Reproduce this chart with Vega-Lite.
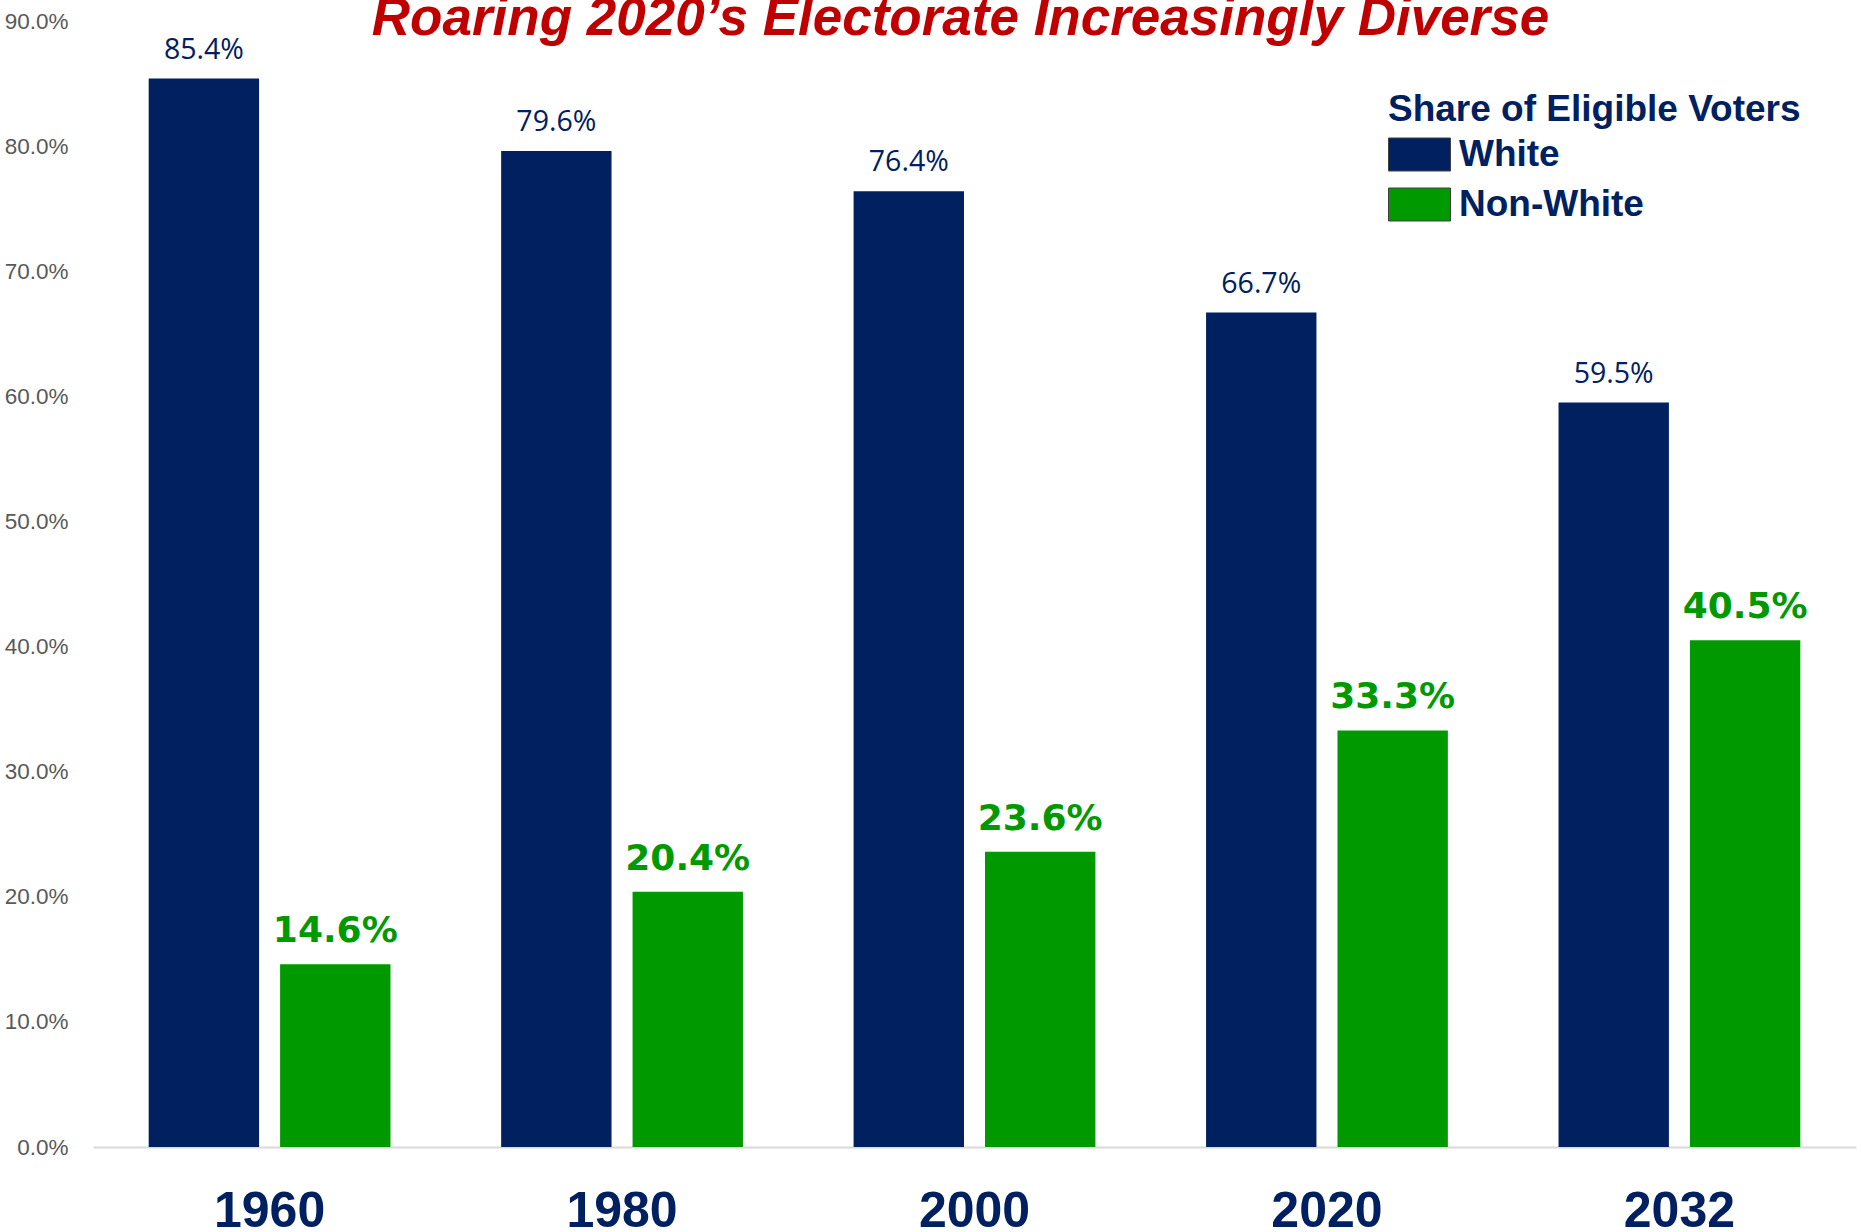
{
  "$schema": "https://vega.github.io/schema/vega-lite/v6.json",
  "autosize": "none",
  "width": 1763,
  "height": 1126,
  "padding": {"left": 93, "top": 21, "right": 7, "bottom": 85},
  "background": "white",
  "title": {
    "text": "Roaring 2020’s Electorate Increasingly Diverse",
    "font": "Liberation Sans, Arial, sans-serif",
    "fontSize": 53,
    "fontWeight": "bold",
    "fontStyle": "italic",
    "color": "#C00000",
    "anchor": "middle",
    "frame": "group",
    "dx": -14,
    "offset": -36
  },
  "config": {"view": {"stroke": null}},
  "data": {
    "values": [
      {"year": "1960", "group": "White", "share": 0.854},
      {"year": "1960", "group": "Non-White", "share": 0.146},
      {"year": "1980", "group": "White", "share": 0.796},
      {"year": "1980", "group": "Non-White", "share": 0.204},
      {"year": "2000", "group": "White", "share": 0.764},
      {"year": "2000", "group": "Non-White", "share": 0.236},
      {"year": "2020", "group": "White", "share": 0.667},
      {"year": "2020", "group": "Non-White", "share": 0.333},
      {"year": "2032", "group": "White", "share": 0.595},
      {"year": "2032", "group": "Non-White", "share": 0.405}
    ]
  },
  "encoding": {
    "x": {
      "field": "year",
      "type": "nominal",
      "sort": null,
      "scale": {"paddingInner": 0.314, "paddingOuter": 0.158},
      "axis": {
        "title": null,
        "labelAngle": 0,
        "labelFont": "Liberation Sans",
        "labelFontSize": 50,
        "labelFontWeight": "bold",
        "labelColor": "#002060",
        "labelBaseline": "alphabetic",
        "labelPadding": 79,
        "ticks": false,
        "tickSize": 0,
        "domain": true,
        "domainColor": "#d9d9d9",
        "domainWidth": 2,
        "grid": false
      }
    },
    "xOffset": {
      "field": "group",
      "type": "nominal",
      "sort": ["White", "Non-White"],
      "scale": {"paddingInner": 0.16, "paddingOuter": 0}
    },
    "y": {
      "field": "share",
      "type": "quantitative",
      "scale": {"domain": [0, 0.9], "nice": false},
      "axis": {
        "title": null,
        "values": [0, 0.1, 0.2, 0.3, 0.4, 0.5, 0.6, 0.7, 0.8, 0.9],
        "format": ".1%",
        "labelFont": "Liberation Sans",
        "labelFontSize": 22.5,
        "labelColor": "#595959",
        "labelPadding": 25,
        "ticks": false,
        "tickSize": 0,
        "domain": false,
        "grid": false
      }
    }
  },
  "layer": [
    {
      "mark": {"type": "bar"},
      "encoding": {
        "color": {
          "field": "group",
          "type": "nominal",
          "sort": ["White", "Non-White"],
          "scale": {"domain": ["White", "Non-White"], "range": ["#002060", "#009900"]},
          "legend": {
            "title": "Share of Eligible Voters",
            "orient": "none",
            "legendX": 1295,
            "legendY": 71,
            "direction": "vertical",
            "padding": 0,
            "titleFont": "Liberation Sans",
            "titleFontSize": 37,
            "titleFontWeight": "bold",
            "titleColor": "#002060",
            "titlePadding": -6,
            "titleLimit": 700,
            "labelFont": "Liberation Sans",
            "labelFontSize": 37,
            "labelFontWeight": "bold",
            "labelColor": "#002060",
            "labelOffset": 8,
            "labelLimit": 400,
            "symbolType": "M-1,-0.532H1V0.532H-1Z",
            "symbolSize": 3844,
            "symbolStrokeColor": "#404040",
            "symbolStrokeWidth": 1,
            "symbolOpacity": 1,
            "rowPadding": -10
          }
        }
      }
    },
    {
      "transform": [{"filter": "datum.group === 'White'"}],
      "mark": {
        "type": "text",
        "font": "Open Sans",
        "fontSize": 28.5,
        "color": "#002060",
        "baseline": "alphabetic",
        "dy": -20
      },
      "encoding": {"text": {"field": "share", "type": "quantitative", "format": ".1%"}}
    },
    {
      "transform": [{"filter": "datum.group === 'Non-White'"}],
      "mark": {
        "type": "text",
        "font": "DejaVu Sans",
        "fontSize": 36,
        "fontWeight": "bold",
        "color": "#009900",
        "baseline": "alphabetic",
        "dy": -22
      },
      "encoding": {"text": {"field": "share", "type": "quantitative", "format": ".1%"}}
    }
  ]
}
